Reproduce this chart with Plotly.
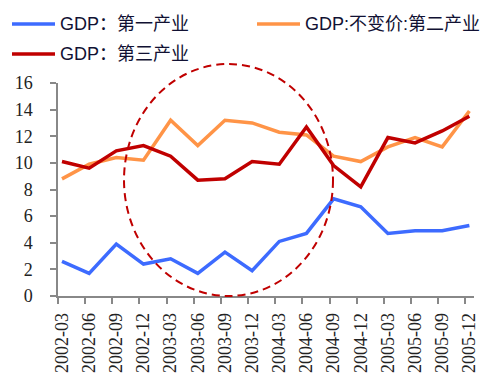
import plotly.graph_objects as go

quarters = ["2002-03", "2002-06", "2002-09", "2002-12", "2003-03", "2003-06", "2003-09", "2003-12",
            "2004-03", "2004-06", "2004-09", "2004-12", "2005-03", "2005-06", "2005-09", "2005-12"]
primary = [2.6, 1.7, 3.9, 2.4, 2.8, 1.7, 3.3, 1.9, 4.1, 4.7, 7.3, 6.7, 4.7, 4.9, 4.9, 5.3]
secondary = [8.8, 9.9, 10.4, 10.2, 13.2, 11.3, 13.2, 13.0, 12.3, 12.1, 10.5, 10.1, 11.2, 11.9, 11.2, 13.9]
tertiary = [10.1, 9.6, 10.9, 11.3, 10.5, 8.7, 8.8, 10.1, 9.9, 12.7, 9.8, 8.2, 11.9, 11.5, 12.4, 13.5]

names = ["GDP：第一产业", "GDP:不变价:第二产业", "GDP：第三产业"]
colors = ["#3D6BFF", "#FF9447", "#C00000"]

W, H = 499, 386
OFF = 8  # page body margin
# plot area in screen pixels
SX0, SX1, SY0, SY1 = 58, 474, 83, 296
L, T = SX0 - OFF, SY0 - OFF
R, B = W - (SX1 - OFF), H - (SY1 - OFF)
PW, PH = SX1 - SX0, SY1 - SY0


def px2x(px):
    return (px - SX0) / PW


def px2y(py):
    return (SY1 - py) / PH


idx = list(range(len(quarters)))
fig = go.Figure()
for name, vals, col in zip(names, [primary, secondary, tertiary], colors):
    fig.add_trace(go.Scatter(x=idx, y=vals, mode="lines", name=name, showlegend=False,
                             line=dict(color=col, width=3.5)))

# dashed highlight ellipse
fig.add_shape(type="circle", xref="paper", yref="paper",
              x0=px2x(124), x1=px2x(333), y0=px2y(296), y1=px2y(64),
              line=dict(color="#C00000", width=2, dash="8px,5px"), layer="above")

# legend drawn manually: (line start px, row center py)
legend_pos = [(12, 24), (257, 24), (12, 54)]
for name, col, (lx, ly) in zip(names, colors, legend_pos):
    fig.add_shape(type="line", xref="paper", yref="paper",
                  x0=px2x(lx), x1=px2x(lx + 43), y0=px2y(ly), y1=px2y(ly),
                  line=dict(color=col, width=3.5))
    fig.add_annotation(xref="paper", yref="paper", x=px2x(lx + 46), y=px2y(ly),
                       xanchor="left", yanchor="middle", showarrow=False, text=name,
                       font=dict(family="Liberation Sans, Noto Sans CJK SC", size=18, color="#111133"))

axis_col = "#888888"
fig.update_layout(
    width=W, height=H,
    margin=dict(l=L, r=R, t=T, b=B, autoexpand=False),
    paper_bgcolor="white", plot_bgcolor="white",
    showlegend=False,
    xaxis=dict(range=[-0.147, 15.17], tickmode="array", tickvals=[i - 0.147 for i in idx],
               ticktext=quarters, tickangle=-90, ticklabelshift=4, ticklabelstandoff=2,
               showline=True, linecolor=axis_col, linewidth=1.5,
               ticks="outside", ticklen=6, tickcolor=axis_col, tickwidth=1.5,
               showgrid=False, zeroline=False,
               tickfont=dict(family="Liberation Serif", size=18, color="#222222")),
    yaxis=dict(range=[0, 16], dtick=2, tick0=0,
               showline=True, linecolor=axis_col, linewidth=1.5,
               ticks="outside", ticklen=6, tickcolor=axis_col, tickwidth=1.5,
               ticklabelstandoff=14,
               showgrid=False, zeroline=False,
               tickfont=dict(family="Liberation Serif", size=18, color="#222222")),
)
fig.write_html("out.html")
